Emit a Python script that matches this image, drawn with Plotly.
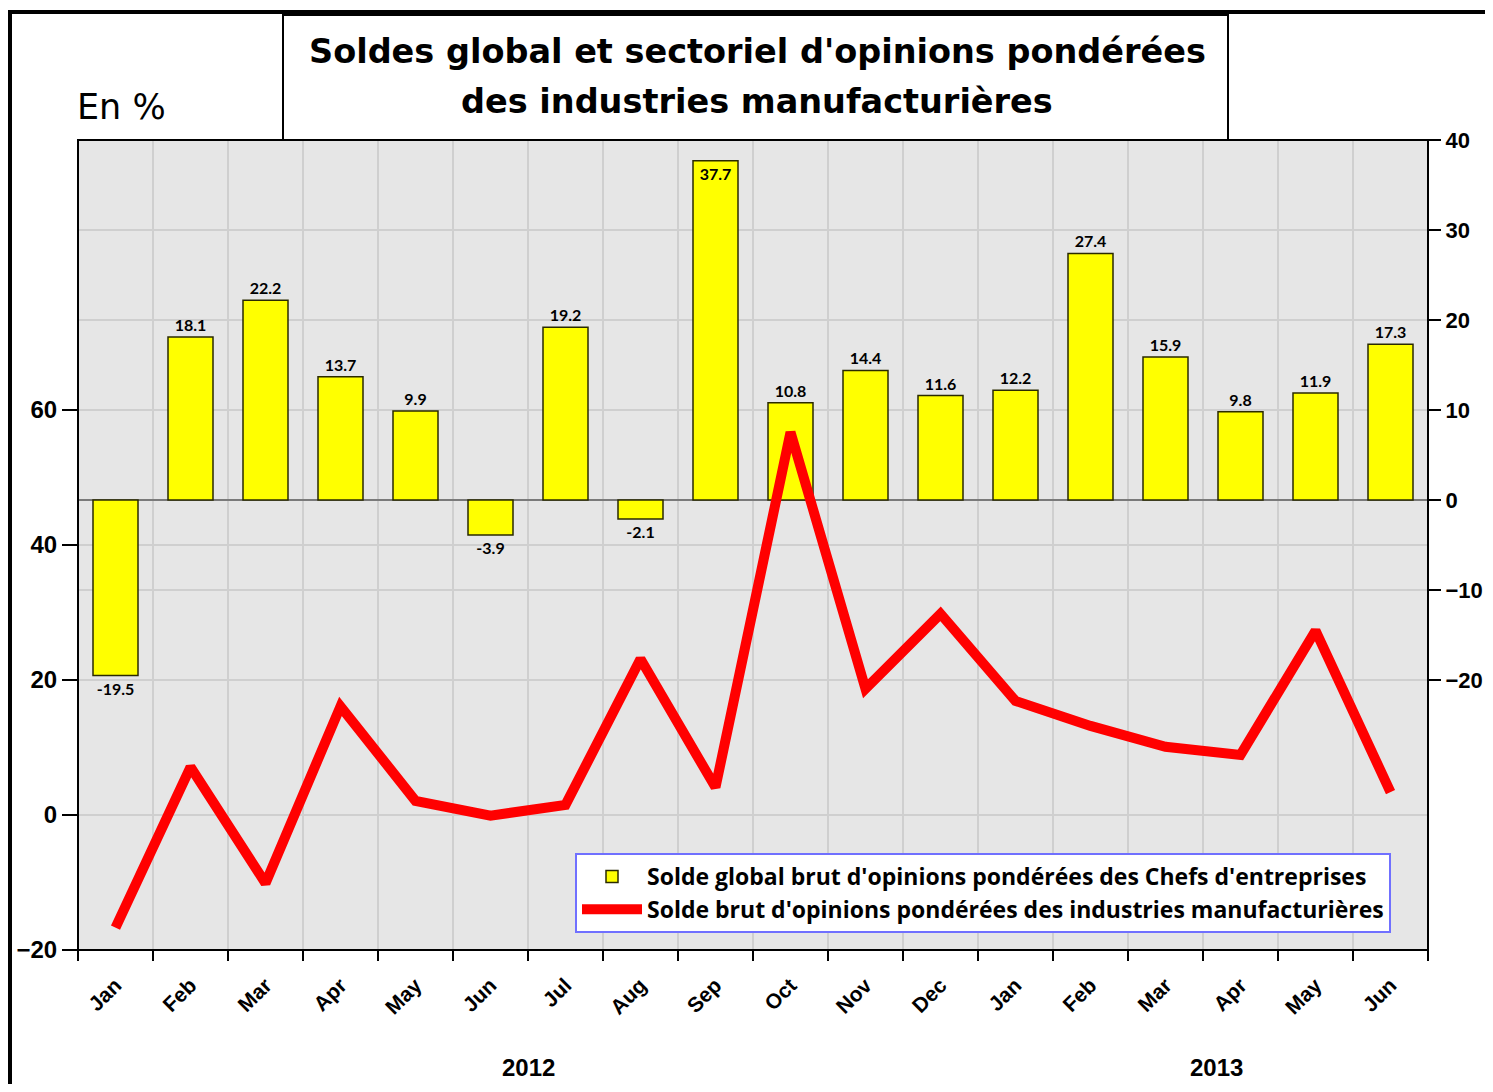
import plotly.graph_objects as go

months = ["Jan", "Feb", "Mar", "Apr", "May", "Jun", "Jul", "Aug", "Sep",
          "Oct", "Nov", "Dec", "Jan", "Feb", "Mar", "Apr", "May", "Jun"]
solde_global = [-19.5, 18.1, 22.2, 13.7, 9.9, -3.9, 19.2, -2.1, 37.7,
                10.8, 14.4, 11.6, 12.2, 27.4, 15.9, 9.8, 11.9, 17.3]
solde_manuf = [-16.7, 7.1, -10.1, 16.1, 2.1, -0.1, 1.5, 23.1, 4.1,
               56.7, 18.7, 29.8, 16.9, 13.2, 10.1, 8.9, 27.3, 3.4]
left_ticks = [-20, 0, 20, 40, 60]
right_ticks = [-20, -10, 0, 10, 20, 30, 40]
years = ["2012", "2013"]

name_bar = "Solde global brut d'opinions pondérées des Chefs d'entreprises"
name_line = "Solde brut d'opinions pondérées des industries manufacturières"
title_l1 = "Soldes global et sectoriel d'opinions pondérées"
title_l2 = "des industries manufacturières"

# page body has an 8px margin: figure is drawn at (8, 8)
OFF = 8
W, H = 1493 - 2 * OFF, 1092 - 2 * OFF
L, R, T, B = 78 - OFF, 1428 - OFF, 140 - OFF, 950 - OFF
pw, ph = R - L, B - T

def px(x):
    return (x - OFF - L) / pw

def py(y):
    return (B - (y - OFF)) / ph

AX = "Liberation Sans"
xs = list(range(len(months)))

fig = go.Figure()
textpos = ["inside" if v > 35 else "outside" for v in solde_global]
fig.add_trace(go.Bar(
    x=xs, y=solde_global, name=name_bar, yaxis="y",
    width=0.6,
    marker=dict(color="#ffff00", line=dict(color="#2a2a00", width=1.5)),
    text=[f"{v:.1f}" for v in solde_global],
    textposition=textpos, insidetextanchor="end",
    textfont=dict(family="Lato", size=16, color="black", weight="bold"),
    cliponaxis=False,
))
fig.add_trace(go.Scatter(
    x=xs, y=solde_manuf, name=name_line, yaxis="y2", mode="lines",
    line=dict(color="#ff0000", width=10),
))

grid = "#cfcfcf"
fig.update_layout(
    width=W, height=H,
    margin=dict(l=L, r=W - R, t=T, b=H - B, autoexpand=False),
    paper_bgcolor="white", plot_bgcolor="#e6e6e6",
    showlegend=True,
    legend=dict(x=px(575), y=py(853), xanchor="left", yanchor="top",
                bgcolor="white", bordercolor="#7070ff", borderwidth=2,
                font=dict(family="Open Sans", size=23, color="black", weight="bold"),
                itemwidth=60, tracegroupgap=0),
    xaxis=dict(range=[-0.5, 17.5], tickvals=xs, ticktext=months,
               tickangle=-45, ticks="", showgrid=False, zeroline=False,
               ticklabelstandoff=18,
               tickfont=dict(family=AX, size=21, color="black", weight="bold"),
               minor=dict(tickvals=[i - 0.5 for i in range(len(months) + 1)],
                          ticks="outside", ticklen=10, tickwidth=2, tickcolor="black",
                          showgrid=True, gridcolor=grid, gridwidth=2),
               showline=False),
    yaxis=dict(side="right", range=[-50, 40], tickvals=right_ticks,
               ticks="outside", ticklen=12, tickwidth=2, tickcolor="black",
               showgrid=True, gridcolor=grid, gridwidth=2,
               zeroline=True, zerolinecolor="#7a7a7a", zerolinewidth=2,
               tickfont=dict(family=AX, size=22, color="black", weight="bold"),
               showline=False),
    yaxis2=dict(side="left", overlaying="y", range=[-20, 100], tickvals=left_ticks,
                ticks="outside", ticklen=15, tickwidth=2, tickcolor="black",
                showgrid=True, gridcolor=grid, gridwidth=2, zeroline=False,
                tickfont=dict(family=AX, size=24, color="black", weight="bold"),
                showline=False),
)

shapes = [
    # plot frame
    dict(type="rect", xref="paper", yref="paper", x0=0, x1=1, y0=0, y1=1,
         line=dict(color="black", width=2), layer="above"),
    # outer border
    dict(type="rect", xref="paper", yref="paper", x0=px(10), x1=px(1490),
         y0=py(1120), y1=py(12), line=dict(color="black", width=4)),
    # title box
    dict(type="rect", xref="paper", yref="paper", x0=px(283), x1=px(1228),
         y0=py(140), y1=py(15), line=dict(color="black", width=2),
         fillcolor="white", layer="above"),
]
fig.update_layout(shapes=shapes)

annotations = []
for text, yc in [(title_l1, 52), (title_l2, 101)]:
    annotations.append(dict(xref="paper", yref="paper", xanchor="center", yanchor="middle",
                            showarrow=False, text=text, x=px(757), y=py(yc),
                            font=dict(family="DejaVu Sans", size=33.5, color="black",
                                      weight="bold")))
annotations.append(dict(xref="paper", yref="paper", xanchor="left", yanchor="middle",
                        showarrow=False, text="En %", x=px(75), y=py(107),
                        font=dict(family="DejaVu Sans", size=35, color="black")))
for label, xc in [(years[0], 528), (years[1], 1216)]:
    annotations.append(dict(xref="paper", yref="paper", xanchor="center", yanchor="middle",
                            showarrow=False, text=label, x=px(xc), y=py(1067),
                            font=dict(family=AX, size=24, color="black", weight="bold")))
fig.update_layout(annotations=annotations)

fig.write_html("out.html")
